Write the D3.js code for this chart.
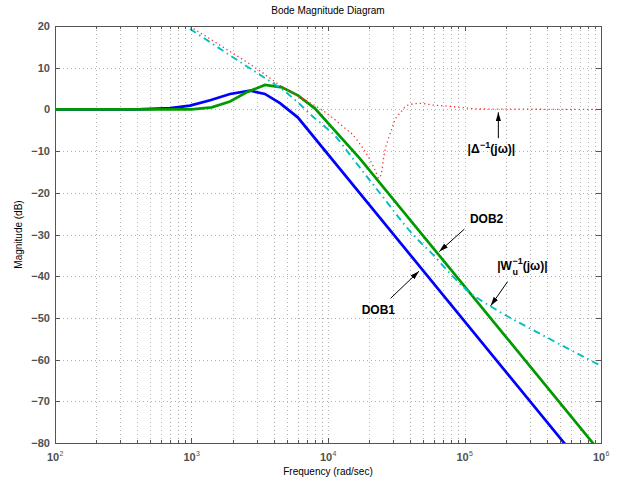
<!DOCTYPE html>
<html>
<head>
<meta charset="utf-8">
<script src="https://cdn.jsdelivr.net/npm/d3@7"></script>
<style>
  body { margin: 0; background: #fff; overflow: hidden; }
  svg { display: block; font-family: "Liberation Sans", Arial, sans-serif; }
</style>
</head>
<body>
<div id="chart"></div>
<script>
// Frequency (rad/sec) and magnitude (dB)
const dob1 = [
  [100, 0], [400, 0], [700, 0.3], [975, 0.9], [1370, 2.2], [1915, 3.7],
  [2685, 4.5], [3450, 3.7], [4446, 1.5], [6000, -1.9], [1e6, -90.8]
]
const dob2 = [
  [100, 0], [1000, 0], [1406, 0.5], [1915, 1.9], [2535, 4.1], [3450, 5.85],
  [4600, 5.3], [6050, 3.3], [8035, 0.2], [17140, -11.8], [1e6, -82.4]
]
const wuInv = [
  [975, 19.3], [2265, 11.4], [3631, 7.05], [4677, 4.65], [5929, 1.85],
  [7762, -1.75], [9506, -4.15], [11650, -6.9], [14490, -10.9], [24040, -20.1],
  [42170, -30.1], [59020, -34.9], [82410, -40.1], [103700, -43.3],
  [172200, -48.1], [357300, -53.8], [1e6, -61.5]
]
const deltaInv = [
  [975, 19.9], [1618, 15.4], [3283, 8.9], [4446, 5.8], [7379, 1.6],
  [8995, -0.1], [10890, -2.1], [12250, -3.5], [13770, -4.9], [14990, -5.9],
  [16600, -7.7], [18030, -9.3], [20320, -12.1], [22090, -14.5], [23650, -16.5],
  [24880, -14.5], [25430, -12.1], [26180, -9.7], [27540, -7.3], [29450, -4.5],
  [30970, -2.5], [33670, -0.9], [38540, 1.05], [47210, 1.45], [58760, 1.05],
  [74470, 0.8], [92700, 0.5], [130000, 0.1], [1e6, 0]
]

const yTicks = [20, 10, 0, -10, -20, -30, -40, -50, -60, -70, -80]
const xDecades = [2, 3, 4, 5, 6]

// annotations: text start, arrow tail -> tip, all in (rad/sec, dB)
const notes = [
  { id: "delta", text: [105400, -10.5], tail: [177000, -6.9], tip: [177000, -0.7] },
  { id: "dob2", text: [109600, -27.2], tail: [99800, -28.7], tip: [65300, -34.1] },
  { id: "wu", text: [173800, -38.5], tail: [207000, -41.3], tip: [155600, -47.1] },
  { id: "dob1", text: [17660, -49.1], tail: [28770, -45.3], tip: [46400, -38.8] }
]

const width = 618
const height = 485
const margin = { top: 26, right: 17, bottom: 42, left: 55 }
const innerWidth = width - margin.left - margin.right
const innerHeight = height - margin.top - margin.bottom

const svg = d3.select("#chart")
  .append("svg")
  .attr("width", width)
  .attr("height", height)

const defs = svg.append("defs")

const g = svg.append("g")
  .attr("transform", `translate(${margin.left},${margin.top})`)

const x = d3.scaleLog().domain([1e2, 1e6]).range([0, innerWidth])
const y = d3.scaleLinear().domain([-80, 20]).range([innerHeight, 0])

// minor log positions 2..9 per decade
let minor = []
xDecades.slice(0, -1).forEach(d => {
  for (let k = 2; k <= 9; k++) minor.push(k * Math.pow(10, d))
})
const majors = xDecades.map(d => Math.pow(10, d))
const px = v => Math.round(v) + 0.5

// grid
const grid = g.append("g")
  .attr("stroke", "#b0b0b0")
  .attr("stroke-width", 1)
  .attr("stroke-dasharray", "1,3")
grid.selectAll("line.v")
  .data(minor.concat(majors.slice(1, -1)))
  .join("line")
  .attr("class", "v")
  .attr("x1", d => px(x(d)))
  .attr("x2", d => px(x(d)))
  .attr("y1", 0)
  .attr("y2", innerHeight)
grid.selectAll("line.h")
  .data(yTicks.slice(1, -1))
  .join("line")
  .attr("class", "h")
  .attr("x1", 0)
  .attr("x2", innerWidth)
  .attr("y1", d => px(y(d)))
  .attr("y2", d => px(y(d)))

// clip for curves
defs.append("clipPath")
  .attr("id", "plot-clip")
  .append("rect")
  .attr("width", innerWidth)
  .attr("height", innerHeight)

const line = d3.line().x(d => x(d[0])).y(d => y(d[1]))
const smooth = d3.line().x(d => x(d[0])).y(d => y(d[1])).curve(d3.curveMonotoneX)

const curves = g.append("g").attr("clip-path", "url(#plot-clip)")

curves.append("path")
  .datum(dob1)
  .attr("d", line)
  .attr("fill", "none")
  .attr("stroke", "#0000ff")
  .attr("stroke-width", 2.7)

curves.append("path")
  .datum(dob2)
  .attr("d", line)
  .attr("fill", "none")
  .attr("stroke", "#009900")
  .attr("stroke-width", 2.7)

curves.append("path")
  .datum(wuInv)
  .attr("d", smooth)
  .attr("fill", "none")
  .attr("stroke", "#00c0c0")
  .attr("stroke-width", 1.9)
  .attr("stroke-dasharray", "7,4,1.5,4")

curves.append("path")
  .datum(deltaInv)
  .attr("d", smooth)
  .attr("fill", "none")
  .attr("stroke", "#ff3030")
  .attr("stroke-width", 1.3)
  .attr("stroke-dasharray", "1.3,3")

// axes box and inside ticks
const axisColor = "#555"
const ticks = g.append("g").attr("stroke", axisColor).attr("stroke-width", 1)

;[0, innerHeight].forEach(edge => {
  const dir = edge === 0 ? 1 : -1
  ticks.append("g").selectAll("line")
    .data(minor)
    .join("line")
    .attr("x1", d => px(x(d)))
    .attr("x2", d => px(x(d)))
    .attr("y1", edge)
    .attr("y2", edge + dir * 3)
  ticks.append("g").selectAll("line")
    .data(majors)
    .join("line")
    .attr("x1", d => px(x(d)))
    .attr("x2", d => px(x(d)))
    .attr("y1", edge)
    .attr("y2", edge + dir * 5)
})
;[0, innerWidth].forEach(edge => {
  const dir = edge === 0 ? 1 : -1
  ticks.append("g").selectAll("line")
    .data(yTicks)
    .join("line")
    .attr("x1", edge)
    .attr("x2", edge + dir * 5)
    .attr("y1", d => px(y(d)))
    .attr("y2", d => px(y(d)))
})

g.append("rect")
  .attr("x", 0.5)
  .attr("y", 0.5)
  .attr("width", innerWidth)
  .attr("height", innerHeight)
  .attr("fill", "none")
  .attr("stroke", axisColor)

// tick labels
g.append("g").selectAll("text")
  .data(yTicks)
  .join("text")
  .attr("x", -5)
  .attr("y", d => y(d) + 4)
  .attr("text-anchor", "end")
  .attr("fill", "#505050")
  .style("font-size", "11px")
  .style("font-weight", "bold")
  .text(d => d3.format("d")(d))

const xl = g.append("g").attr("fill", "#505050")
xl.selectAll("text.base")
  .data(xDecades)
  .join("text")
  .attr("class", "base")
  .attr("x", d => x(Math.pow(10, d)) - 2)
  .attr("y", innerHeight + 18)
  .attr("text-anchor", "middle")
  .style("font-size", "11px")
  .style("font-weight", "bold")
  .text("10")
xl.selectAll("text.exp")
  .data(xDecades)
  .join("text")
  .attr("class", "exp")
  .attr("x", d => x(Math.pow(10, d)) + 4.5)
  .attr("y", innerHeight + 13)
  .style("font-size", "7px")
  .text(d => d)

// titles
svg.append("text")
  .attr("x", margin.left + innerWidth / 2)
  .attr("y", 14)
  .attr("text-anchor", "middle")
  .style("font-size", "10px")
  .text("Bode Magnitude Diagram")

svg.append("text")
  .attr("x", margin.left + innerWidth / 2)
  .attr("y", 475)
  .attr("text-anchor", "middle")
  .style("font-size", "10px")
  .text("Frequency (rad/sec)")

svg.append("text")
  .attr("transform", `translate(22,${margin.top + innerHeight / 2}) rotate(-90)`)
  .attr("text-anchor", "middle")
  .style("font-size", "10px")
  .text("Magnitude (dB)")

// annotation arrows
defs.append("marker")
  .attr("id", "arrow")
  .attr("viewBox", "0 -3 10 6")
  .attr("refX", 10)
  .attr("refY", 0)
  .attr("markerUnits", "userSpaceOnUse")
  .attr("markerWidth", 9)
  .attr("markerHeight", 5.5)
  .attr("orient", "auto")
  .append("path")
  .attr("d", "M0,-3L10,0L0,3Z")
  .attr("fill", "#000")

const ann = g.append("g")
ann.selectAll("line")
  .data(notes)
  .join("line")
  .attr("x1", d => x(d.tail[0]))
  .attr("y1", d => y(d.tail[1]))
  .attr("x2", d => x(d.tip[0]))
  .attr("y2", d => y(d.tip[1]))
  .attr("stroke", "#000")
  .attr("stroke-width", 1)
  .attr("marker-end", "url(#arrow)")

function label(px0, py0, size, str) {
  return ann.append("text")
    .attr("x", px0)
    .attr("y", py0)
    .style("font-size", size + "px")
    .style("font-weight", "bold")
    .text(str)
}
const noteAt = id => notes.find(d => d.id === id).text

label(x(noteAt("dob2")[0]), y(noteAt("dob2")[1]), 12, "DOB2")
label(x(noteAt("dob1")[0]), y(noteAt("dob1")[1]), 12, "DOB1")

// |Δ^-1(jω)|
let p = noteAt("delta")
let tx = x(p[0]), ty = y(p[1])
let t1 = label(tx, ty, 12, "|Δ")
tx += t1.node().getComputedTextLength() + 0.5
let t2 = label(tx, ty - 5, 9, "−1")
tx += t2.node().getComputedTextLength()
label(tx, ty, 12, "(jω)|")

// |W_u^-1(jω)| with stacked sub/superscript
p = noteAt("wu")
tx = x(p[0]); ty = y(p[1])
t1 = label(tx, ty, 12, "|W")
tx += t1.node().getComputedTextLength() + 0.5
t2 = label(tx, ty - 6, 9, "−1")
label(tx, ty + 5, 9, "u")
tx += t2.node().getComputedTextLength()
label(tx, ty, 12, "(jω)|")
</script>
</body>
</html>
